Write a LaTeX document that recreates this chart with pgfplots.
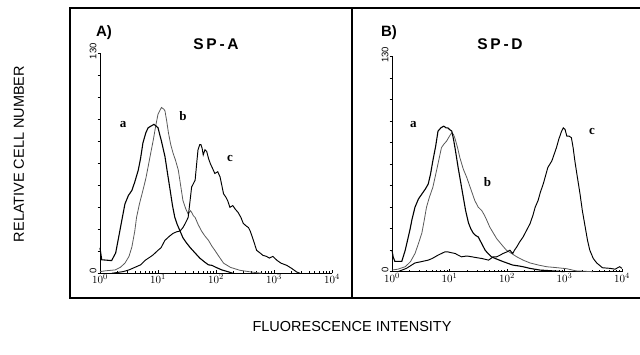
\documentclass[border=0pt]{standalone}
\usepackage{pgfplots}
\pgfplotsset{compat=1.18}
\usepackage{fontspec}
\setmainfont{Liberation Sans}
\newfontfamily\serifb{Liberation Serif}
\pgfplotstableread{
x y
0 15
0.03 8
0.2 7.5
0.27 12
0.32 21
0.38 32
0.43 41
0.49 46
0.55 49
0.6 54
0.66 61
0.70 68
0.74 77
0.79 83
0.83 86
0.88 87
0.93 88
0.97 87
1.0 86
1.06 78
1.12 69
1.16 60
1.21 49
1.25 40
1.29 33
1.33 29
1.38 25
1.43 21
1.49 18
1.56 15
1.64 12
1.72 9
1.81 6.5
1.87 5
1.93 4.7
2.0 3.5
2.1 2
2.2 1
2.29 0
}\Aa
\pgfplotstableread{
x y
0 1
0.1 1.5
0.26 2
0.35 3.5
0.43 6
0.5 10
0.55 15.6
0.6 25
0.63 33
0.68 41
0.74 49
0.79 56
0.83 63
0.88 72
0.92 79
0.96 87
1.0 94
1.06 98
1.1 97
1.12 96
1.15 90
1.18 83
1.22 76
1.26 71
1.3 67
1.35 61
1.39 52
1.43 43
1.48 38
1.52 35
1.56 37
1.58 36
1.61 34
1.64 33
1.69 29
1.75 25
1.81 22
1.87 19.5
1.93 16
1.98 13.6
2.05 10
2.13 6
2.25 3.5
2.41 1.8
2.6 0.8
2.8 0
}\Ab
\pgfplotstableread{
x y
0.2 0
0.4 1
0.5 2
0.6 3.5
0.7 5
0.78 7.7
0.88 10
0.92 11
0.95 12
1.0 13.6
1.05 15
1.12 19.5
1.2 22
1.26 23.6
1.32 24.5
1.38 25
1.43 27
1.47 29.5
1.52 33
1.56 45
1.58 51
1.61 53
1.64 55
1.67 66
1.69 73
1.72 76
1.74 76
1.76 74
1.78 70
1.81 73
1.84 72
1.87 68
1.9 65
1.94 62
1.98 59
2.03 60
2.07 57
2.1 52
2.13 47
2.17 45
2.2 43
2.24 39
2.29 40
2.33 38
2.38 36
2.43 33
2.47 29.5
2.52 28
2.56 27
2.59 25
2.65 19
2.7 13.6
2.76 12
2.81 10.6
2.87 10
2.92 9
2.98 10
3.05 7.7
3.12 6
3.22 4.7
3.3 3
3.39 0.8
3.45 0
}\Ac
\pgfplotstableread{
x y
0 13
0.02 9
0.05 6.2
0.17 6.2
0.23 13
0.27 19
0.31 25
0.35 32
0.4 39
0.46 44
0.52 47
0.58 50
0.63 53
0.67 59
0.71 67
0.76 76
0.8 85
0.85 87
0.9 88
0.94 87
0.97 87
1.0 86
1.04 85
1.07 80
1.1 74
1.15 63
1.2 53
1.24 45
1.28 37
1.33 29.5
1.37 26
1.41 23.5
1.45 22
1.5 21
1.56 17
1.62 13
1.67 11
1.73 9
1.83 7.5
1.94 6
2.02 5
2.1 4
2.2 3.5
2.28 3
2.4 2
2.57 1
2.8 0.5
3.0 0
}\Ba
\pgfplotstableread{
x y
0 1
0.1 1.5
0.23 3
0.32 6
0.4 11
0.46 17
0.52 23.5
0.56 31
0.6 39
0.65 45
0.71 51
0.78 62
0.86 75
0.9 77
0.95 79
1.0 82
1.04 84
1.07 83
1.1 80
1.14 75
1.18 69
1.24 62
1.3 57
1.37 50
1.44 43
1.5 39
1.56 37
1.61 34
1.65 31
1.7 27
1.76 23.5
1.82 20
1.88 17.5
1.94 15
1.99 13
2.08 11
2.17 9
2.28 7
2.4 5.3
2.55 4
2.69 3
2.85 2.5
3.04 1.8
3.2 0.5
3.5 0
}\Bb
\pgfplotstableread{
x y
0.1 0
0.25 2
0.4 5.3
0.5 6
0.63 7
0.7 8
0.75 9
0.8 10
0.86 11
0.92 12
0.97 12
1.03 11.5
1.1 11
1.15 10
1.21 9
1.3 9.5
1.39 9
1.47 8.5
1.56 8
1.62 7.5
1.68 7
1.72 8
1.76 9
1.82 9
1.88 10
1.93 11
2.0 12
2.05 13
2.1 11
2.13 13
2.17 15
2.22 18
2.28 21
2.34 25
2.4 29
2.45 34
2.49 39
2.54 43
2.58 48
2.63 53
2.67 58
2.71 63
2.78 67
2.82 71
2.86 75
2.9 80
2.95 85
2.98 87
3.01 86
3.04 82
3.08 82
3.12 81
3.15 75
3.18 67
3.22 58
3.27 47
3.31 37
3.36 27
3.4 19
3.44 13
3.5 8
3.56 5.3
3.66 2.4
3.8 2
3.88 1.5
3.93 2.5
3.96 3
4.0 2
}\Bc
\tikzset{lab/.style={font=\serifb\bfseries\fontsize{13}{14}\selectfont}}
\pgfplotsset{
  facs/.style={
    scale only axis, clip=false,
    xmin=0, xmax=4, ymin=0, ymax=130,
    axis x line=bottom, axis y line=left,
    axis line style={-, line width=0.8pt},
    tick align=inside,
    xtick={0,1,2,3,4},
    xticklabels={$10^0$,$10^1$,$10^2$,$10^3$,$10^4$},
    minor xtick={0.301,0.477,0.602,0.699,0.778,0.845,0.903,0.954,
      1.301,1.477,1.602,1.699,1.778,1.845,1.903,1.954,
      2.301,2.477,2.602,2.699,2.778,2.845,2.903,2.954,
      3.301,3.477,3.602,3.699,3.778,3.845,3.903,3.954},
    major tick length=3pt, minor tick length=2pt,
    ytick={0,13,26,39,52,65,78,91,104,117,130},
    yticklabels={0,,,,,,,,,,130},
    y tick style={xshift=-2.5pt},
    yticklabel style={rotate=90, font=\fontsize{9.5}{10}\selectfont, xshift=2pt},
    xticklabel style={font=\fontsize{11}{12}\selectfont, yshift=2pt},
    every tick/.style={black, line width=0.6pt},
  },
  ca/.style={black, line width=1.1pt},
  cb/.style={black!65, line width=0.8pt},
  cc/.style={black, line width=0.95pt},
}
\begin{document}
\begin{tikzpicture}
\useasboundingbox (0,0) rectangle (640pt,354pt);
\draw[line width=1.8pt] (70pt,56pt) rectangle (352pt,346pt);
\draw[line width=1.8pt] (640pt,346pt) -- (352pt,346pt) -- (352pt,56pt) -- (640pt,56pt);
\node[rotate=90, font=\fontsize{14.5}{16}\selectfont] at (19pt,200pt) {RELATIVE CELL NUMBER};
\node[font=\fontsize{14.5}{16}\selectfont] at (352pt,27pt) {FLUORESCENCE INTENSITY};
\node[font=\bfseries\fontsize{15}{16}\selectfont] at (104pt,321pt) {A)};
\node[font=\bfseries\fontsize{15.5}{16}\selectfont\addfontfeatures{LetterSpace=18}] at (216pt,310pt) {SP-A};
\node[font=\bfseries\fontsize{15}{16}\selectfont] at (389pt,321pt) {B)};
\node[font=\bfseries\fontsize{15.5}{16}\selectfont\addfontfeatures{LetterSpace=18}] at (500pt,310pt) {SP-D};
\begin{axis}[facs, at={(100pt,80.7pt)}, anchor=origin, width=232pt, height=220pt]
\addplot[cb] table {\Ab};
\addplot[cc] table {\Ac};
\addplot[ca] table {\Aa};
\node[lab] at (axis cs:0.40,88) {a};
\node[lab] at (axis cs:1.43,93) {b};
\node[lab] at (axis cs:2.24,68) {c};
\end{axis}
\begin{axis}[facs, at={(392pt,82.3pt)}, anchor=origin, width=230pt, height=215pt]
\addplot[cb] table {\Bb};
\addplot[cc] table {\Bc};
\addplot[ca] table {\Ba};
\node[lab] at (axis cs:0.37,89) {a};
\node[lab] at (axis cs:1.66,54) {b};
\node[lab] at (axis cs:3.48,85) {c};
\end{axis}
\end{tikzpicture}
\end{document}
